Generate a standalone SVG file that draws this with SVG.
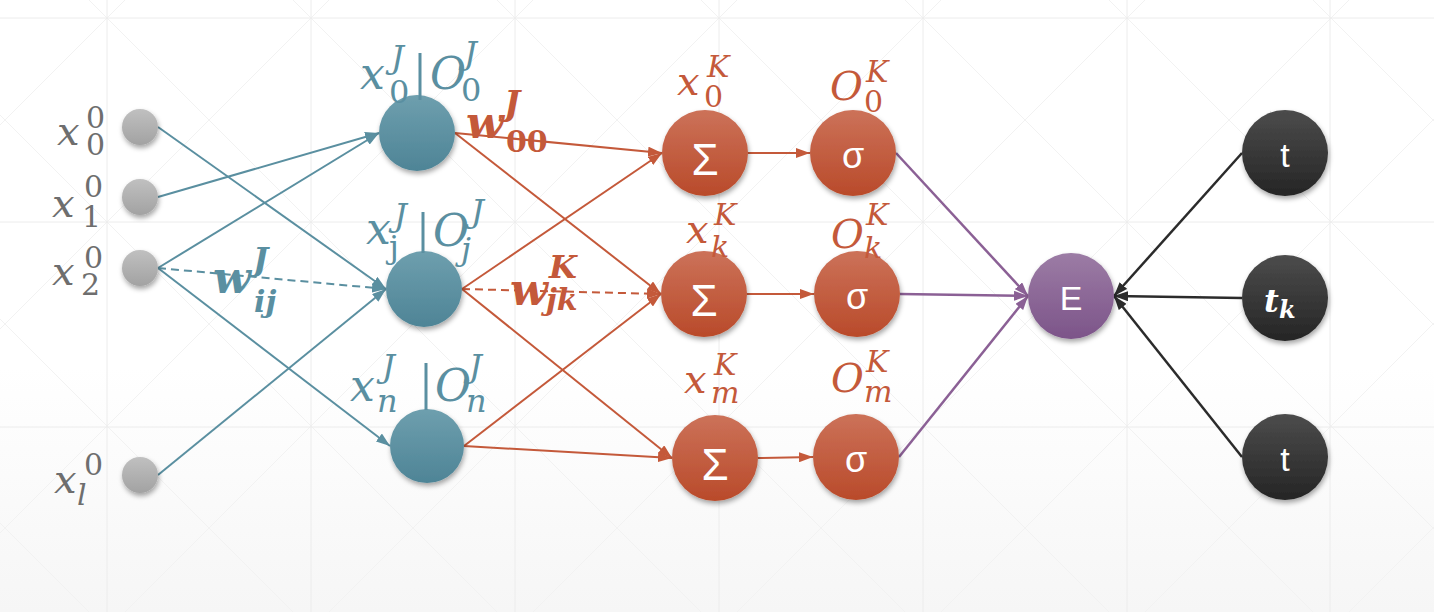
<svg xmlns="http://www.w3.org/2000/svg" width="1434" height="612" viewBox="0 0 1434 612">
<defs>
<linearGradient id="bg" x1="0" y1="0" x2="0" y2="1"><stop offset="0.6" stop-color="#ffffff"/><stop offset="1" stop-color="#f6f6f6"/></linearGradient>
<linearGradient id="gGray" x1="0" y1="0" x2="0" y2="1"><stop offset="0" stop-color="#c0c0c0"/><stop offset="1" stop-color="#a2a2a2"/></linearGradient>
<linearGradient id="gTeal" x1="0" y1="0" x2="0" y2="1"><stop offset="0" stop-color="#6e9fae"/><stop offset="1" stop-color="#4e8496"/></linearGradient>
<linearGradient id="gOr" x1="0" y1="0" x2="0" y2="1"><stop offset="0" stop-color="#cc7259"/><stop offset="1" stop-color="#b94a2a"/></linearGradient>
<linearGradient id="gPu" x1="0" y1="0" x2="0" y2="1"><stop offset="0" stop-color="#9c7ca5"/><stop offset="1" stop-color="#7c5489"/></linearGradient>
<linearGradient id="gBk" x1="0" y1="0" x2="0" y2="1"><stop offset="0" stop-color="#4c4c4c"/><stop offset="1" stop-color="#252525"/></linearGradient>
<filter id="sh" x="-30%" y="-30%" width="160%" height="170%"><feDropShadow dx="1" dy="3" stdDeviation="2.5" flood-color="#000" flood-opacity="0.35"/></filter>
<marker id="aT" viewBox="0 0 14 10" refX="14" refY="5" markerWidth="14" markerHeight="10" markerUnits="userSpaceOnUse" orient="auto"><path d="M0,0 L14,5 L0,10 z" fill="#5a8fa0"/></marker>
<marker id="aO" viewBox="0 0 14 10" refX="14" refY="5" markerWidth="14" markerHeight="10" markerUnits="userSpaceOnUse" orient="auto"><path d="M0,0 L14,5 L0,10 z" fill="#c4593a"/></marker>
<marker id="aP" viewBox="0 0 14 10" refX="14" refY="5" markerWidth="14" markerHeight="10" markerUnits="userSpaceOnUse" orient="auto"><path d="M0,0 L14,5 L0,10 z" fill="#8b6095"/></marker>
<marker id="aB" viewBox="0 0 14 10" refX="14" refY="5" markerWidth="14" markerHeight="10" markerUnits="userSpaceOnUse" orient="auto"><path d="M0,0 L14,5 L0,10 z" fill="#2b2b2b"/></marker>
</defs>
<style>
.grid{stroke:#ececec;stroke-width:1;fill:none}
.diag{stroke:#f2f2f2;stroke-width:1;fill:none}
.lt{stroke:#5a8fa0;stroke-width:2;fill:none;marker-end:url(#aT)}
.lo{stroke:#c4593a;stroke-width:2;fill:none;marker-end:url(#aO)}
.lp{stroke:#8b6095;stroke-width:2.5;fill:none;marker-end:url(#aP)}
.lb{stroke:#2b2b2b;stroke-width:2.5;fill:none;marker-end:url(#aB)}
.dash{stroke-dasharray:8 5}
.lab{font-family:"DejaVu Serif","Liberation Serif",serif}
.m{font-style:italic}
.r{font-style:normal}
.gray{fill:#6e6e6e}
.teal{fill:#5a8fa1}
.or{fill:#c4593a}
.b{font-weight:bold}
.nt{font-family:"Liberation Sans","Open Sans",sans-serif;fill:#ffffff;text-anchor:middle}
</style>
<rect x="0" y="0" width="1434" height="612" fill="url(#bg)"/>
<g id="background-grid">
<path class="diag" d="M89,0 L701,612 M293,0 L905,612 M497,0 L1109,612 M701,0 L1313,612 M905,0 L1434,529 M1109,0 L1434,325 M1313,0 L1434,121 M0,115 L497,612 M0,319 L293,612 M0,523 L89,612"/>
<path class="diag" d="M125,0 L0,125 M329,0 L0,329 M533,0 L0,533 M737,0 L125,612 M941,0 L329,612 M1145,0 L533,612 M1349,0 L737,612 M1434,119 L941,612 M1434,323 L1145,612 M1434,527 L1349,612"/>
<path class="grid" d="M107,0 V612 M311,0 V612 M515,0 V612 M719,0 V612 M923,0 V612 M1127,0 V612 M1330,0 V612 M0,18 H1434 M0,222 H1434 M0,427 H1434"/>
</g>
<g id="connectors">
<line class="lt" x1="158" y1="127" x2="386" y2="289"/>
<line class="lt" x1="158" y1="197" x2="379" y2="133"/>
<line class="lt" x1="158" y1="268" x2="379" y2="133"/>
<line class="lt dash" x1="158" y1="268" x2="386" y2="289"/>
<line class="lt" x1="158" y1="268" x2="390" y2="446"/>
<line class="lt" x1="158" y1="475" x2="386" y2="289"/>
<line class="lo" x1="455" y1="133" x2="662" y2="153"/>
<line class="lo" x1="455" y1="133" x2="661" y2="294"/>
<line class="lo" x1="462" y1="289" x2="662" y2="153"/>
<line class="lo dash" x1="462" y1="289" x2="661" y2="294"/>
<line class="lo" x1="462" y1="289" x2="672" y2="458"/>
<line class="lo" x1="464" y1="446" x2="661" y2="294"/>
<line class="lo" x1="464" y1="446" x2="672" y2="458"/>
<line class="lo" x1="748" y1="153" x2="810" y2="153"/>
<line class="lo" x1="747" y1="294" x2="814" y2="294"/>
<line class="lo" x1="758" y1="458" x2="813" y2="457"/>
<line class="lp" x1="896" y1="153" x2="1028" y2="296"/>
<line class="lp" x1="900" y1="294" x2="1028" y2="296"/>
<line class="lp" x1="899" y1="457" x2="1028" y2="296"/>
<line class="lb" x1="1242" y1="153" x2="1114" y2="296"/>
<line class="lb" x1="1242" y1="298" x2="1114" y2="296"/>
<line class="lb" x1="1242" y1="457" x2="1114" y2="296"/>
</g>
<g id="in0"><circle cx="140" cy="127" r="18" fill="url(#gGray)" filter="url(#sh)"/>
<text class="lab gray" font-size="30"><tspan class="m" x="57" y="145" font-size="40">x</tspan><tspan x="86" y="128">0</tspan><tspan x="86" y="155">0</tspan></text></g>
<g id="in1"><circle cx="140" cy="197" r="18" fill="url(#gGray)" filter="url(#sh)"/>
<text class="lab gray" font-size="30"><tspan class="m" x="52" y="217" font-size="40">x</tspan><tspan x="84" y="197">0</tspan><tspan x="82" y="227">1</tspan></text></g>
<g id="in2"><circle cx="140" cy="268" r="18" fill="url(#gGray)" filter="url(#sh)"/>
<text class="lab gray" font-size="30"><tspan class="m" x="52" y="285" font-size="40">x</tspan><tspan x="84" y="268">0</tspan><tspan x="81" y="295">2</tspan></text></g>
<g id="inl"><circle cx="140" cy="475" r="18" fill="url(#gGray)" filter="url(#sh)"/>
<text class="lab gray" font-size="30"><tspan class="m" x="54" y="493" font-size="40">x</tspan><tspan x="84" y="475">0</tspan><tspan class="m" x="77" y="505">l</tspan></text></g>
<g id="h0"><circle cx="417" cy="133" r="38" fill="url(#gTeal)" filter="url(#sh)"/>
<line x1="420" y1="53" x2="420" y2="100" stroke="#5a8fa1" stroke-width="3"/>
<text class="lab teal" font-size="32"><tspan class="m" x="360" y="89" font-size="44">x</tspan><tspan class="m" x="391" y="68">J</tspan><tspan x="389" y="103">0</tspan><tspan class="m" x="430" y="89" font-size="44">O</tspan><tspan class="m" x="464" y="64">J</tspan><tspan x="461" y="101">0</tspan></text></g>
<g id="hj"><circle cx="424" cy="289" r="38" fill="url(#gTeal)" filter="url(#sh)"/>
<line x1="423" y1="212" x2="423" y2="253" stroke="#5a8fa1" stroke-width="3"/>
<text class="lab teal" font-size="32"><tspan class="m" x="366" y="244" font-size="44">x</tspan><tspan class="m" x="394" y="226">J</tspan><tspan x="389" y="258">j</tspan><tspan class="m" x="433" y="246" font-size="44">O</tspan><tspan class="m" x="471" y="222">J</tspan><tspan class="m" x="461" y="260">j</tspan></text></g>
<g id="hn"><circle cx="427" cy="446" r="37" fill="url(#gTeal)" filter="url(#sh)"/>
<line x1="426" y1="363" x2="426" y2="410" stroke="#5a8fa1" stroke-width="3"/>
<text class="lab teal" font-size="32"><tspan class="m" x="350" y="401" font-size="44">x</tspan><tspan class="m" x="382" y="377">J</tspan><tspan class="m" x="377" y="412">n</tspan><tspan class="m" x="435" y="401" font-size="44">O</tspan><tspan class="m" x="469" y="377">J</tspan><tspan class="m" x="466" y="412">n</tspan></text></g>
<g id="s0"><circle cx="705" cy="153" r="43" fill="url(#gOr)" filter="url(#sh)"/><text class="nt" x="705" y="175" font-size="44">Σ</text>
<text class="lab or" font-size="30"><tspan class="m" x="677" y="95" font-size="40">x</tspan><tspan class="m" x="707" y="77">K</tspan><tspan x="704" y="107">0</tspan></text></g>
<g id="sk"><circle cx="704" cy="294" r="43" fill="url(#gOr)" filter="url(#sh)"/><text class="nt" x="704" y="316" font-size="44">Σ</text>
<text class="lab or" font-size="30"><tspan class="m" x="686" y="243" font-size="40">x</tspan><tspan class="m" x="714" y="225">K</tspan><tspan class="m" x="711" y="257">k</tspan></text></g>
<g id="sm"><circle cx="715" cy="458" r="43" fill="url(#gOr)" filter="url(#sh)"/><text class="nt" x="715" y="480" font-size="44">Σ</text>
<text class="lab or" font-size="30"><tspan class="m" x="684" y="393" font-size="40">x</tspan><tspan class="m" x="714" y="375">K</tspan><tspan class="m" x="711" y="403">m</tspan></text></g>
<g id="o0"><circle cx="853" cy="153" r="43" fill="url(#gOr)" filter="url(#sh)"/><text class="nt" x="853" y="168" font-size="36">σ</text>
<text class="lab or" font-size="30"><tspan class="m" x="830" y="100" font-size="40">O</tspan><tspan class="m" x="866" y="82">K</tspan><tspan x="864" y="112">0</tspan></text></g>
<g id="ok"><circle cx="857" cy="294" r="43" fill="url(#gOr)" filter="url(#sh)"/><text class="nt" x="857" y="309" font-size="36">σ</text>
<text class="lab or" font-size="30"><tspan class="m" x="831" y="248" font-size="40">O</tspan><tspan class="m" x="866" y="225">K</tspan><tspan class="m" x="864" y="258">k</tspan></text></g>
<g id="om"><circle cx="856" cy="457" r="43" fill="url(#gOr)" filter="url(#sh)"/><text class="nt" x="856" y="472" font-size="36">σ</text>
<text class="lab or" font-size="30"><tspan class="m" x="831" y="392" font-size="40">O</tspan><tspan class="m" x="866" y="372">K</tspan><tspan class="m" x="864" y="402">m</tspan></text></g>
<g id="E"><circle cx="1071" cy="296" r="43" fill="url(#gPu)" filter="url(#sh)"/><text class="nt" x="1071" y="310" font-size="34">E</text></g>
<g id="t1"><circle cx="1285" cy="153" r="43" fill="url(#gBk)" filter="url(#sh)"/><text class="nt" x="1285" y="167" font-size="34">t</text></g>
<g id="tk"><circle cx="1285" cy="298" r="43" fill="url(#gBk)" filter="url(#sh)"/><text class="lab m b" fill="#ffffff" font-size="24"><tspan x="1264" y="312" font-size="32">t</tspan><tspan x="1279" y="318">k</tspan></text></g>
<g id="t3"><circle cx="1285" cy="457" r="43" fill="url(#gBk)" filter="url(#sh)"/><text class="nt" x="1285" y="471" font-size="34">t</text></g>
<g id="w-labels">
<text class="lab teal b" font-size="30"><tspan class="m" x="213" y="293" font-size="44">w</tspan><tspan class="m" x="253" y="270" font-size="32">J</tspan><tspan class="m" x="254" y="312">ij</tspan></text>
<text class="lab or b" font-size="30"><tspan class="m" x="466" y="138" font-size="44">w</tspan><tspan class="m" x="504" y="115" font-size="34">J</tspan><tspan class="r" x="506" y="152">00</tspan></text>
<text class="lab or b" font-size="30"><tspan class="m" x="510" y="305" font-size="44">w</tspan><tspan class="m" x="549" y="278" font-size="32">K</tspan><tspan class="m" x="546" y="310">jk</tspan></text>
</g>
</svg>
